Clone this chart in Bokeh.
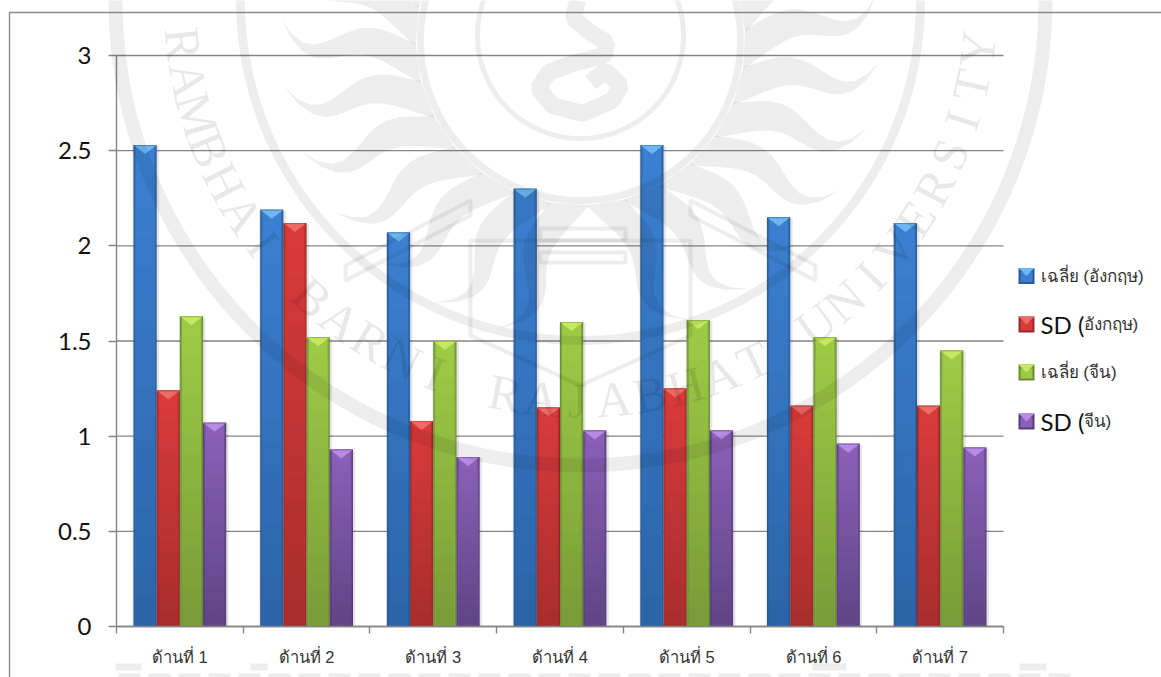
import math
from bokeh.plotting import figure
from bokeh.models import Range1d, LinearAxis, FixedTicker, PolyAnnotation, Label
from bokeh.embed import file_html
from bokeh.resources import INLINE

categories = ["ด้านที่ 1", "ด้านที่ 2", "ด้านที่ 3", "ด้านที่ 4", "ด้านที่ 5", "ด้านที่ 6", "ด้านที่ 7"]
mean_en = [2.53, 2.19, 2.07, 2.30, 2.53, 2.15, 2.12]
sd_en = [1.24, 2.12, 1.08, 1.15, 1.25, 1.16, 1.16]
mean_cn = [1.63, 1.52, 1.50, 1.60, 1.61, 1.52, 1.45]
sd_cn = [1.07, 0.93, 0.89, 1.03, 1.03, 0.96, 0.94]
y_ticks = [0, 0.5, 1, 1.5, 2, 2.5, 3]
y_labels = ["0", "0.5", "1", "1.5", "2", "2.5", "3"]
legend_big = ["", "SD (", "", "SD ("]
legend_small = ["เฉลี่ย (อังกฤษ)", "อังกฤษ)", "เฉลี่ย (จีน)", "จีน)"]
series = [mean_en, sd_en, mean_cn, sd_cn]
palette = [
    ("#3b80d0", "#2b62a6", "#2a5a94", "#6db6f2"),
    ("#d83a3a", "#a52d2d", "#9a2a2a", "#ee6a66"),
    ("#9dca45", "#769a38", "#6b8a33", "#c6e861"),
    ("#8a5fb6", "#5e4384", "#553c78", "#b78ae6"),
]
WM_ALPHA = 0.07
GRID = "#858585"

W, H = 1161, 677
FL, FT, FW, FH = 116, 55, 887, 571
N = len(categories)
XU = N / FW    # one pixel along x, in category units
UNIT = 3 / FH  # one pixel along y, in value units

p = figure(width=W, height=H, output_backend="svg", toolbar_location=None,
           x_range=Range1d(-FL * XU, N + (W - FL - FW) * XU),
           y_range=Range1d(-(H - FT - FH) * UNIT, 3 + FT * UNIT),
           x_axis_location=None, y_axis_location="left",
           min_border=0, min_border_left=0, min_border_right=0, min_border_top=0, min_border_bottom=0)
p.outline_line_color = None
p.background_fill_color = None
p.border_fill_color = "white"
p.xgrid.visible = False
p.ygrid.visible = False
p.yaxis.fixed_location = 0
p.yaxis.bounds = (0, 3)
p.yaxis.ticker = FixedTicker(ticks=y_ticks)
p.yaxis.major_label_overrides = {t: l for t, l in zip(y_ticks, y_labels)}
p.yaxis.major_label_text_font = "Lato"
p.yaxis.major_label_text_font_size = "24px"
p.yaxis.major_label_text_color = "#111111"
p.yaxis.major_label_standoff = 17
p.yaxis.axis_line_color = GRID
p.yaxis.axis_line_width = 1.4
p.yaxis.major_tick_line_color = GRID
p.yaxis.major_tick_line_width = 1.4
p.yaxis.major_tick_out = 8
p.yaxis.major_tick_in = 0
p.yaxis.minor_tick_line_color = None

centres = [i + 0.5 for i in range(N)]
edges = list(range(N + 1))
cat_axis = LinearAxis(fixed_location=0, bounds=(0, N),
                      ticker=FixedTicker(ticks=centres, minor_ticks=edges),
                      major_label_overrides=dict(zip(centres, categories)),
                      axis_line_color=GRID, axis_line_width=1.4,
                      major_tick_line_color=None, major_tick_in=0, major_tick_out=0,
                      minor_tick_line_color=GRID, minor_tick_line_width=1.4,
                      minor_tick_in=0, minor_tick_out=7,
                      major_label_text_font_size="16.5px", major_label_text_color="#333333",
                      major_label_standoff=14)
p.add_layout(cat_axis, "below")

# gridlines across the plot area only
p.segment(x0=[0] * len(y_ticks), x1=[N] * len(y_ticks), y0=y_ticks, y1=y_ticks,
          line_color=GRID, line_width=1.4)

BW = 0.183
STEPS = 16


def mix(a, b, t):
    ca = [int(a[k:k + 2], 16) for k in (1, 3, 5)]
    cb = [int(b[k:k + 2], 16) for k in (1, 3, 5)]
    return "#%02x%02x%02x" % tuple(round(u + (w - u) * t) for u, w in zip(ca, cb))


for s, (vals, (c_top, c_bot, c_edge, c_cap)) in enumerate(zip(series, palette)):
    xs = [i + 0.5 + (s - 1.5) * BW for i in range(len(vals))]
    p.vbar(x=[x + 0.006 for x in xs], width=BW + 0.026, bottom=0, top=[v - UNIT for v in vals],
           fill_color="#000000", fill_alpha=0.10, line_color=None)
    p.vbar(x=xs, width=BW, bottom=0, top=vals, fill_color=c_edge, line_color=None)
    for k in range(STEPS):
        f = 1 - k / STEPS
        p.vbar(x=xs, width=BW * 0.92, bottom=0, top=[v * f for v in vals],
               fill_color=mix(mix(c_top, c_edge, 0.5), mix(c_bot, c_edge, 0.5), k / STEPS), line_color=None)
    for k in range(STEPS):
        f = 1 - k / STEPS
        p.vbar(x=xs, width=BW * 0.80, bottom=0, top=[(v - 2 * UNIT) * f for v in vals],
               fill_color=mix(c_top, c_bot, k / STEPS), line_color=None)
    p.patches(xs=[[x - BW / 2, x + BW / 2, x] for x in xs],
              ys=[[v, v, v - 9 * UNIT] for v in vals],
              fill_color=c_cap, line_color=None)
    p.vbar(x=xs, width=BW, bottom=[v - UNIT for v in vals], top=vals, fill_color=c_edge,
           fill_alpha=0.45, line_color=None)

LX = 1018
LY = [275.5, 324, 372, 421]


def poly(xs, ys, fill=None, line=None, lw=1, alpha=1.0, level="guide"):
    a = PolyAnnotation(xs=xs, ys=ys, xs_units="canvas", ys_units="canvas",
                       fill_color=fill, fill_alpha=alpha if fill else 0,
                       line_color=line, line_alpha=alpha if line else 0, line_width=lw, level=level)
    p.add_layout(a)


def wm_line(xs, ys, lw):
    poly(xs, ys, line="#000000", lw=lw, alpha=WM_ALPHA)


CX, CY = 580, 0


def circle(cx, cy, r, n=180):
    return ([cx + r * math.cos(2 * math.pi * i / n) for i in range(n)],
            [cy + r * math.sin(2 * math.pi * i / n) for i in range(n)])


wm_line(*circle(CX, CY, 465), 14)
wm_line(*circle(CX, CY, 340), 9)
wm_line(*circle(CX, 40, 160), 7)
wm_line(*circle(CX, 35, 103), 5)

for deg in range(-108, 109, 13):
    sign = 1 if deg >= 0 else -1
    phi0 = math.radians(deg)
    L, R0 = 135, 165
    pts_a, pts_b = [], []
    for j in range(13):
        t = j / 12
        wob = 0.10 * math.sin(t * 5.2)
        ang = phi0 + sign * (0.30 * t * t) + sign * wob
        r = R0 + L * t
        w = 20 * (1 - t) ** 0.8
        dw = w / r
        pts_a.append((CX + r * math.sin(ang - dw), 40 + r * math.cos(ang - dw)))
        pts_b.append((CX + r * math.sin(ang + dw), 40 + r * math.cos(ang + dw)))
    pts = pts_a + pts_b[::-1]
    poly([q[0] for q in pts], [q[1] for q in pts], fill="#000000", alpha=WM_ALPHA)

sx = [577, 573, 590, 606, 604, 575, 548, 538, 552, 582, 612, 620, 605, 590]
sy = [0, 18, 32, 42, 55, 62, 72, 88, 105, 113, 100, 85, 70, 82]
wm_line(sx + sx[::-1], sy + sy[::-1], 17)

for bx, by in [([470, 690, 690, 580, 470], [240, 240, 335, 385, 335]),
               ([540, 625, 625, 540], [228, 228, 240, 240]),
               ([540, 625, 625, 540], [252, 252, 262, 262]),
               ([345, 470, 470, 345], [265, 200, 215, 280]),
               ([815, 690, 690, 815], [265, 200, 215, 280])]:
    wm_line(bx, by, 4)

ring_text = "RAMBHAI BARNI RAJABHAT UNIVERSITY"
for n, ch in enumerate(ring_text):
    if ch == " ":
        continue
    phi = math.radians(-83.8 + (83.8 + 83) * n / (len(ring_text) - 1))
    p.add_layout(Label(x=CX + 400 * math.sin(phi), y=CY + 400 * math.cos(phi),
                       x_units="canvas", y_units="canvas", text=ch, angle=phi, angle_units="rad",
                       text_font="Liberation Serif", text_font_size="50px", text_color="#000000",
                       text_alpha=0.09, text_align="center", text_baseline="middle", level="guide"))

# clipped watermark line along the bottom of the page
for x0, x1 in [(115, 141), (250, 267), (812, 846), (1019, 1046)]:
    poly([x0, x1, x1, x0], [663, 663, 670, 670], fill="#000000", alpha=WM_ALPHA)
for x0 in range(118, 1050, 30):
    poly([x0, x0 + 22, x0 + 22, x0], [673, 673, 677, 677], fill="#000000", alpha=WM_ALPHA)

# page frame
poly([9, W + 20, W + 20, 9], [12, 12, H + 20, H + 20], line="#8a8a8a", lw=1.4)

# legend
for y, big, small, (c_top, c_bot, c_edge, c_cap) in zip(LY, legend_big, legend_small, palette):
    S = 16
    poly([LX, LX + S, LX + S, LX], [y - 8, y - 8, y + 8, y + 8], fill=c_edge)
    poly([LX + 2, LX + S - 2, LX + S - 2, LX + 2], [y - 4, y - 4, y + 6, y + 6], fill=c_top)
    poly([LX, LX + S, LX + S / 2], [y - 8, y - 8, y], fill=c_cap)
    tx = 1040
    if big:
        p.add_layout(Label(x=tx, y=y, x_units="canvas", y_units="canvas", text=big,
                           text_font="Lato", text_font_size="24px", text_color="#111111",
                           text_baseline="middle", level="guide"))
        tx = 1083
    p.add_layout(Label(x=tx, y=y, x_units="canvas", y_units="canvas", text=small,
                       text_font_size="17px", text_color="#333333", text_baseline="middle", level="guide"))

open("out.html", "w").write(file_html(p, INLINE))
